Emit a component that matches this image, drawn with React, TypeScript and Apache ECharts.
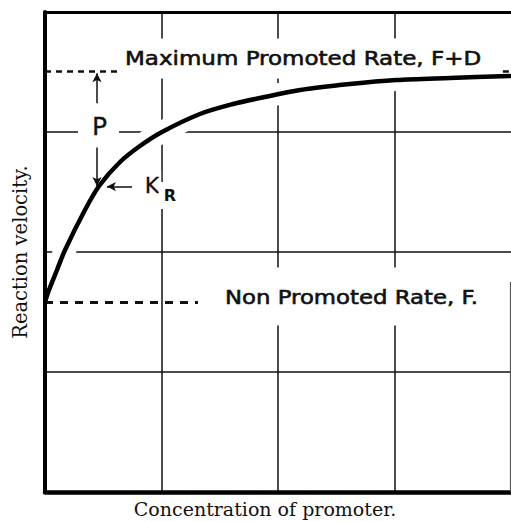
import React, { useEffect, useRef } from "react";
import * as echarts from "echarts";

// ---- data ----
const curveX = [0, 0.034, 0.103, 0.172, 0.343, 0.464, 0.644, 0.815, 1.004, 1.33, 1.614, 1.845, 2.189, 2.618, 3.013, 3.476, 4.0];
const curveY = [1.583, 1.683, 1.85, 2.017, 2.35, 2.55, 2.75, 2.883, 3.0, 3.15, 3.233, 3.283, 3.35, 3.4, 3.433, 3.45, 3.467];
const maxRate = 3.508; // F + D
const baseRate = 1.583; // F
const axisMin = 0;
const axisMax = 4;
const axisStep = 1;

const xTitle = "Concentration of promoter.";
const yTitle = "Reaction velocity.";
const maxLabel = "Maximum Promoted Rate, F+D";
const baseLabel = "Non Promoted Rate, F.";
const pLabel = "P";
const kLabel = "K";
const rLabel = "R";

// ---- annotation anchors (data units) ----
const maxDashEnd = 0.66;
const maxTailStart = 3.93;
const baseDashEnd = 1.313;
const pArrowX = 0.446;
const pArrowTop = [3.24, 3.49];
const pArrowBottom = [2.87, 2.55];
const krArrow = [0.747, 0.532, 2.545];
const maxLabelAt = [0.687, 3.579];
const baseLabelAt = [1.545, 1.604];
const pLabelAt = [0.468, 3.042];
const kLabelAt = [0.918, 2.558];
const rLabelAt = [1.073, 2.475];

const INK = "#111";
const HAND = '"DejaVu Sans", sans-serif';
const SERIF = '"DejaVu Serif", serif';

export default function App() {
  const ref = useRef<HTMLDivElement>(null);

  useEffect(() => {
    const chart = echarts.init(ref.current!, null, { renderer: "svg" });
    const curve = curveX.map((x, i) => [x, curveY[i]]);

    const seg = (a: number[], b: number[], lineStyle: any, arrow = false) => [
      { coord: a, symbol: "none", lineStyle },
      arrow ? { coord: b, symbol: "arrow", symbolSize: [7, 9] } : { coord: b, symbol: "none" },
    ];

    const dashMax = { color: INK, width: 2.5, type: [6, 5] };
    const dashBase = { color: INK, width: 3, type: [8, 7] };
    const thin = { color: INK, width: 1.5, type: "solid" };

    chart.setOption({
      animation: false,
      backgroundColor: "#fff",
      grid: { left: 45, right: 0, top: 12, bottom: 30, outerBoundsMode: "none", containLabel: false },
      xAxis: [
        {
          type: "value",
          min: axisMin,
          max: axisMax,
          interval: axisStep,
          name: xTitle,
          nameLocation: "middle",
          nameGap: 7,
          nameTextStyle: { fontFamily: SERIF, fontSize: 19, color: INK, padding: [0, 26, 0, 0] },
          axisLine: { show: true, lineStyle: { color: "#000", width: 4.5 } },
          axisTick: { show: false },
          axisLabel: { show: false },
          splitLine: { show: true, showMinLine: false, showMaxLine: false, lineStyle: { color: INK, width: 1.5 } },
          z: 0,
        },
        {
          type: "value",
          position: "top",
          min: axisMin,
          max: axisMax,
          interval: axisStep,
          axisLine: { show: true, onZero: false, lineStyle: { color: "#000", width: 3 } },
          axisTick: { show: false },
          axisLabel: { show: false },
          splitLine: { show: false },
          z: 10,
        },
      ],
      yAxis: [
        {
          type: "value",
          min: axisMin,
          max: axisMax,
          interval: axisStep,
          name: yTitle,
          nameLocation: "middle",
          nameRotate: 90,
          nameGap: 15,
          nameTextStyle: { fontFamily: SERIF, fontSize: 19.5, color: INK },
          axisLine: { show: false },
          axisTick: { show: false },
          axisLabel: { show: false },
          splitLine: { show: true, showMinLine: false, showMaxLine: false, lineStyle: { color: INK, width: 1.5 } },
          z: 0,
        },
        {
          type: "value",
          position: "left",
          min: axisMin,
          max: axisMax,
          interval: axisStep,
          axisLine: { show: true, onZero: false, lineStyle: { color: "#000", width: 4 } },
          axisTick: { show: false },
          axisLabel: { show: false },
          splitLine: { show: false },
          z: 10,
        },
      ],
      series: [
        {
          type: "line",
          data: curve,
          smooth: 0.3,
          symbol: "none",
          silent: true,
          lineStyle: { color: "#fff", width: 22 },
          z: 2,
        },
        {
          type: "line",
          data: curve,
          smooth: 0.3,
          symbol: "none",
          silent: true,
          lineStyle: { color: "#000", width: 4.5 },
          z: 3,
        },
        {
          type: "line",
          data: [],
          symbol: "none",
          silent: true,
          z: 4,
          markLine: {
            silent: true,
            animation: false,
            label: { show: false },
            emphasis: { disabled: true },
            data: [
              seg([0, maxRate], [maxDashEnd, maxRate], dashMax),
              seg([maxTailStart, maxRate], [axisMax, maxRate], dashMax),
              seg([0, baseRate], [baseDashEnd, baseRate], dashBase),
              seg([3.99, 0], [3.99, 1.75], { color: "#555", width: 1.2, type: "solid" }),
              seg([pArrowX, pArrowTop[0]], [pArrowX, pArrowTop[1]], thin, true),
              seg([pArrowX, pArrowBottom[0]], [pArrowX, pArrowBottom[1]], thin, true),
              seg([krArrow[0], krArrow[2]], [krArrow[1], krArrow[2]], thin, true),
            ],
          },
        },
      ],
    });

    const toPx = (p: number[]) => chart.convertToPixel({ xAxisIndex: 0, yAxisIndex: 0 }, p) as number[];

    const label = (
      text: string,
      at: number[],
      font: string,
      align: string,
      scaleX: number,
      pad: number[],
      weight = 0.6,
    ) => {
      const [px, py] = toPx(at);
      const [pt, pr, pb, pl] = pad;
      const dx = align === "left" ? -pl * scaleX : ((pr - pl) / 2) * scaleX;
      return {
        type: "text",
        x: px + dx,
        y: py - (pt - pb) / 2,
        z: 1,
        scaleX,
        silent: true,
        style: {
          text,
          font,
          fill: INK,
          stroke: INK,
          lineWidth: weight,
          align,
          verticalAlign: "middle",
          backgroundColor: "#fff",
          padding: pad,
        },
      };
    };

    chart.setOption({
      graphic: [
        label(maxLabel, maxLabelAt, `20px ${HAND}`, "left", 1.15, [14, 6, 6, 4]),
        label(baseLabel, baseLabelAt, `20px ${HAND}`, "left", 1.14, [22, 6, 16, 4]),
        label(pLabel, pLabelAt, `25px ${HAND}`, "center", 1, [4, 12, 4, 14], 0.3),
        label(kLabel, kLabelAt, `22px ${HAND}`, "center", 1, [3, 2, 3, 2], 0.3),
        label(rLabel, rLabelAt, `bold 16px ${HAND}`, "center", 1, [5, 3, 6, 5], 0),
      ],
    });

    return () => chart.dispose();
  }, []);

  return <div ref={ref} style={{ position: "fixed", left: 0, top: 0, width: 511, height: 522 }} />;
}
